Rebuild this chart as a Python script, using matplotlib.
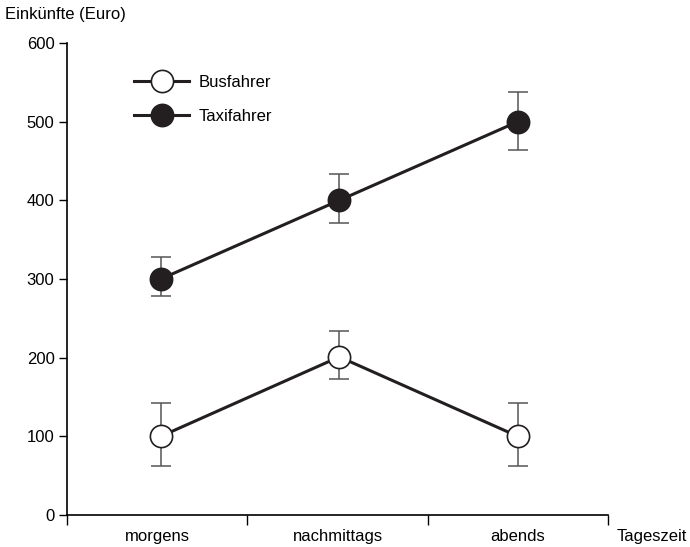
import matplotlib
matplotlib.use("Agg")
import matplotlib.pyplot as plt
from matplotlib.lines import Line2D

plt.rcParams['font.family'] = ['Liberation Sans', 'DejaVu Sans']

categories = ["morgens", "nachmittags", "abends"]
bus = [100, 201, 100]
bus_err_low = [38, 28, 38]
bus_err_high = [43, 33, 42]
taxi = [300, 400, 500]
taxi_err_low = [22, 29, 36]
taxi_err_high = [28, 33, 38]
yticks = [0, 100, 200, 300, 400, 500, 600]

FS = 12

fig = plt.figure(figsize=(6.9, 5.47), dpi=100)
ax = fig.add_axes([67/690, 1-515/547, (608-67)/690, (515-43)/547])

xpos = [0.52, 1.51, 2.5]
line_col = "#231f20"
err_col = "#555555"

for vals, lo, hi, face in [(bus, bus_err_low, bus_err_high, "white"),
                           (taxi, taxi_err_low, taxi_err_high, line_col)]:
    ax.errorbar(xpos, vals, yerr=[lo, hi], fmt="none", ecolor=err_col,
                elinewidth=1.1, capsize=7, capthick=1.1, zorder=2)
    ax.plot(xpos, vals, color=line_col, lw=2.2, marker="o", ms=16,
            mfc=face, mec=line_col, mew=1.2, zorder=3)

ax.set_xlim(0, 3)
ax.set_ylim(0, 600)
ax.set_yticks(yticks)
ax.set_xticks([0, 1, 2, 3])
ax.set_xticklabels([])
ax.set_xticks([0.5, 1.5, 2.5], minor=True)
ax.set_xticklabels(categories, minor=True)
ax.tick_params(axis="x", which="minor", length=0, pad=10, labelsize=FS)
ax.tick_params(axis="x", which="major", length=7, width=1, direction="out")
ax.tick_params(axis="y", length=6, width=1, direction="out", pad=3, labelsize=FS)
for s in ["top", "right"]:
    ax.spines[s].set_visible(False)
for s in ["left", "bottom"]:
    ax.spines[s].set_linewidth(1.2)

handles = [Line2D([], [], color=line_col, lw=2.2, marker="o", ms=16,
                  mfc="white", mec=line_col, mew=1.2),
           Line2D([], [], color=line_col, lw=2.2, marker="o", ms=16,
                  mfc=line_col, mec=line_col, mew=1.2)]
ax.legend(handles, ["Busfahrer", "Taxifahrer"], frameon=False,
          loc="upper left", bbox_to_anchor=(119/690, 1-60/547),
          bbox_transform=fig.transFigure, handlelength=3.3,
          labelspacing=1.15, fontsize=FS, handletextpad=0.6)

fig.text(5/690, 1-15/547, "Einkünfte (Euro)", fontsize=FS, va="center", ha="left")
fig.text(617/690, 1-537/547, "Tageszeit", fontsize=FS, va="center", ha="left")

fig.savefig("out.png", dpi=100)
